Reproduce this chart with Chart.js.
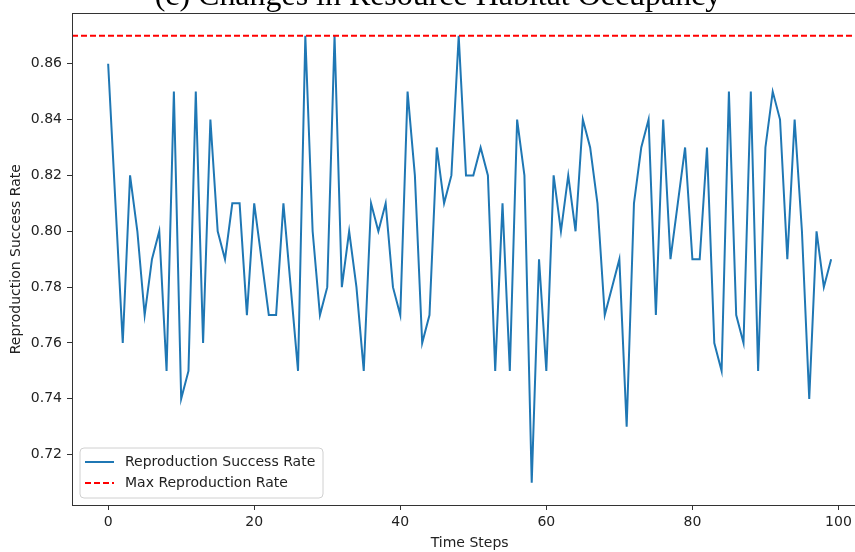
<!DOCTYPE html>
<html>
<head>
<meta charset="utf-8">
<script src="https://cdn.jsdelivr.net/npm/chart.js@4/dist/chart.umd.min.js"></script>
<style>
  html, body { margin: 0; padding: 0; background: #fff; overflow: hidden; }
  #wrap { width: 855px; height: 552px; overflow: hidden; position: relative; }
  #c { position: absolute; left: 0; top: 0; }
</style>
</head>
<body>
<div id="wrap"><canvas id="c" width="880" height="552"></canvas></div>
<script>
const titleText = "(c) Changes in Resource Habitat Occupancy";
const seriesLabel = "Reproduction Success Rate";
const maxLabel = "Max Reproduction Rate";
const xTitle = "Time Steps";
const yTitle = "Reproduction Success Rate";

const steps = [0,1,2,3,4,5,6,7,8,9,10,11,12,13,14,15,16,17,18,19,
  20,21,22,23,24,25,26,27,28,29,30,31,32,33,34,35,36,37,38,39,
  40,41,42,43,44,45,46,47,48,49,50,51,52,53,54,55,56,57,58,59,
  60,61,62,63,64,65,66,67,68,69,70,71,72,73,74,75,76,77,78,79,
  80,81,82,83,84,85,86,87,88,89,90,91,92,93,94,95,96,97,98,99];

const rates = [0.86,0.81,0.76,0.82,0.80,0.77,0.79,0.80,0.75,0.85,
  0.74,0.75,0.85,0.76,0.84,0.80,0.79,0.81,0.81,0.77,
  0.81,0.79,0.77,0.77,0.81,0.78,0.75,0.87,0.80,0.77,
  0.78,0.87,0.78,0.80,0.78,0.75,0.81,0.80,0.81,0.78,
  0.77,0.85,0.82,0.76,0.77,0.83,0.81,0.82,0.87,0.82,
  0.82,0.83,0.82,0.75,0.81,0.75,0.84,0.82,0.71,0.79,
  0.75,0.82,0.80,0.82,0.80,0.84,0.83,0.81,0.77,0.78,
  0.79,0.73,0.81,0.83,0.84,0.77,0.84,0.79,0.81,0.83,
  0.79,0.79,0.83,0.76,0.75,0.85,0.77,0.76,0.85,0.75,
  0.83,0.85,0.84,0.79,0.84,0.80,0.74,0.80,0.78,0.79];

const maxRate = 0.87;
const xTicks = [0,20,40,60,80,100];
const yTicks = [0.72,0.74,0.76,0.78,0.80,0.82,0.84,0.86];

const xMin = -4.95, xMax = 103.95;
const yMin = 0.702, yMax = 0.878;

const FONT = "'DejaVu Sans', sans-serif";
const TXT = '#222';
const AX = '#333';

const framePlugin = {
  id: 'frame',
  afterDatasetsDraw(chart) {
    const {ctx, chartArea: a} = chart;
    ctx.save();
    ctx.strokeStyle = AX;
    ctx.lineWidth = 1;
    ctx.strokeRect(Math.round(a.left) + 0.5, Math.round(a.top) + 0.5,
      Math.round(a.right - a.left), Math.round(a.bottom - a.top));
    ctx.restore();
  },
  afterDraw(chart) {
    const ctx = chart.ctx;
    // legend
    ctx.save();
    const lx = 80, ly = 448, lw = 243, lh = 50, r = 4;
    ctx.beginPath();
    ctx.moveTo(lx + r, ly);
    ctx.arcTo(lx + lw, ly, lx + lw, ly + lh, r);
    ctx.arcTo(lx + lw, ly + lh, lx, ly + lh, r);
    ctx.arcTo(lx, ly + lh, lx, ly, r);
    ctx.arcTo(lx, ly, lx + lw, ly, r);
    ctx.closePath();
    ctx.fillStyle = 'rgba(255,255,255,0.8)';
    ctx.fill();
    ctx.strokeStyle = '#d0d0d0';
    ctx.lineWidth = 1;
    ctx.stroke();
    const items = [
      {label: chart.data.datasets[1].label, color: '#1f77b4', dash: []},
      {label: chart.data.datasets[0].label, color: '#ff0000', dash: [6, 3]}
    ];
    ctx.font = '14px ' + FONT;
    ctx.textBaseline = 'middle';
    items.forEach((it, i) => {
      const y = 462 + i * 21;
      ctx.beginPath();
      ctx.setLineDash(it.dash);
      ctx.strokeStyle = it.color;
      ctx.lineWidth = 2;
      ctx.moveTo(85, y);
      ctx.lineTo(114, y);
      ctx.stroke();
      ctx.setLineDash([]);
      ctx.fillStyle = TXT;
      ctx.fillText(it.label, 125, y);
    });
    // title (cut off at the top)
    let fs = 28;
    ctx.font = fs + "px 'Liberation Serif', 'Times New Roman', serif";
    const w = ctx.measureText(titleText).width;
    fs = fs * 567 / w;
    ctx.font = fs + "px 'Liberation Serif', 'Times New Roman', serif";
    ctx.textAlign = 'center';
    ctx.textBaseline = 'alphabetic';
    ctx.fillStyle = '#000';
    ctx.fillText(titleText, 438, 5);
    ctx.restore();
  }
};

new Chart(document.getElementById('c'), {
  type: 'line',
  data: {
    datasets: [
      {
        label: maxLabel,
        data: [{x: xMin, y: maxRate}, {x: xMax, y: maxRate}],
        borderColor: '#ff0000',
        borderWidth: 1.8,
        borderDash: [6, 3],
        pointRadius: 0,
        fill: false,
        order: 0
      },
      {
        label: seriesLabel,
        data: steps.map((s, i) => ({x: s, y: rates[i]})),
        borderColor: '#1f77b4',
        borderWidth: 2,
        pointRadius: 0,
        tension: 0,
        fill: false,
        order: 1
      }
    ]
  },
  options: {
    responsive: false,
    animation: false,
    events: [],
    layout: { padding: { top: 11, right: 12.7, bottom: 0, left: 0 } },
    plugins: { legend: { display: false }, tooltip: { enabled: false }, title: { display: false } },
    scales: {
      x: {
        type: 'linear',
        min: xMin, max: xMax,
        afterBuildTicks: s => { s.ticks = xTicks.map(v => ({value: v})); },
        afterFit: s => { s.height = 47; },
        grid: { drawOnChartArea: false, drawTicks: true, tickLength: 5, tickColor: AX, tickWidth: 1 },
        border: { display: true, color: AX, width: 1 },
        ticks: { color: TXT, font: { family: FONT, size: 14 }, padding: 4, maxRotation: 0,
                 callback: v => String(v) },
        title: { display: true, text: xTitle, color: TXT, font: { family: FONT, size: 14 }, padding: { top: 0, bottom: 0 } }
      },
      y: {
        type: 'linear',
        min: yMin, max: yMax,
        afterBuildTicks: s => { s.ticks = yTicks.map(v => ({value: v})); },
        afterFit: s => { s.width = 72; },
        grid: { drawOnChartArea: false, drawTicks: true, tickLength: 5, tickColor: AX, tickWidth: 1 },
        border: { display: true, color: AX, width: 1 },
        ticks: { color: TXT, font: { family: FONT, size: 14 }, padding: 5,
                 callback: v => v.toFixed(2) },
        title: { display: true, text: yTitle, color: TXT, font: { family: FONT, size: 14 }, padding: { top: 8, bottom: 0 } }
      }
    }
  },
  plugins: [framePlugin]
});
</script>
</body>
</html>
